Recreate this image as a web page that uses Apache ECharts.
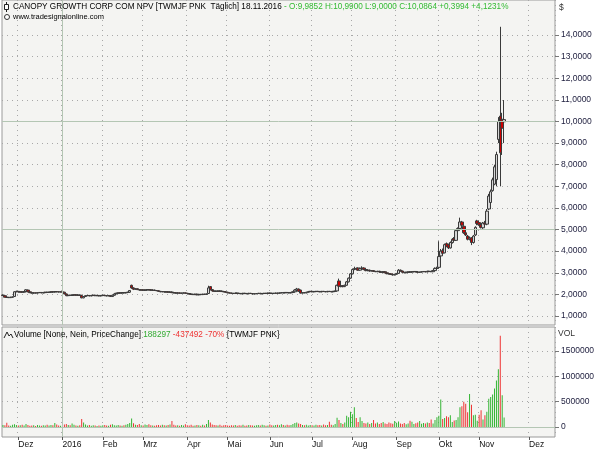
<!DOCTYPE html>
<html><head><meta charset="utf-8">
<script src="https://cdn.jsdelivr.net/npm/echarts@6/dist/echarts.min.js"></script>
<style>html,body{margin:0;padding:0;background:#fff}#c{width:600px;height:450px}</style>
</head><body><div id="c"></div>
<script>
// ---- DATA (daily, TWMJF PNK, from 19.11.2015 to 18.11.2016) ----
const opens = [
1.97,1.94,1.87,1.86,1.85,1.87,1.90,2.12,2.14,2.11,
2.12,2.10,2.13,2.20,2.12,2.08,2.06,2.07,2.06,2.08,
2.09,2.07,2.08,2.10,2.09,2.10,2.12,2.11,2.13,2.12,
2.11,2.12,2.10,2.02,1.94,1.96,1.95,1.97,1.98,1.96,
1.97,1.95,1.84,1.90,1.94,1.95,1.93,1.95,1.96,1.94,
1.95,1.93,1.95,1.96,1.94,1.93,1.95,1.90,1.96,2.02,
2.05,2.07,2.06,2.08,2.07,2.09,2.10,2.42,2.30,2.24,
2.26,2.22,2.20,2.21,2.19,2.20,2.22,2.21,2.19,2.20,
2.18,2.17,2.14,2.12,2.13,2.11,2.12,2.10,2.11,2.08,
2.07,2.06,2.07,2.05,2.06,2.07,2.05,2.04,2.02,2.00,
1.99,2.01,1.98,2.00,1.99,2.01,2.00,2.04,2.36,2.22,
2.16,2.15,2.14,2.16,2.15,2.13,2.12,2.10,2.07,2.06,
2.05,2.04,2.06,2.05,2.04,2.03,2.05,2.04,2.03,2.05,
2.04,2.02,2.03,2.04,2.05,2.03,2.04,2.05,2.04,2.06,
2.05,2.04,2.05,2.06,2.05,2.07,2.08,2.07,2.09,2.08,
2.07,2.09,2.12,2.20,2.25,2.20,2.06,2.08,2.07,2.10,
2.13,2.14,2.12,2.13,2.14,2.13,2.12,2.14,2.13,2.12,
2.14,2.13,2.12,2.14,2.16,2.62,2.36,2.40,2.36,2.42,
2.58,2.75,2.95,3.15,3.20,3.22,3.12,3.20,3.22,3.15,
3.10,3.12,3.08,3.10,3.06,3.05,3.07,3.04,3.02,3.05,
3.00,2.96,2.95,2.92,2.90,2.93,2.97,3.12,3.08,3.02,
3.00,3.02,3.04,3.03,3.05,3.06,3.04,3.02,3.03,3.05,
3.06,3.04,3.07,3.06,3.05,3.10,3.20,3.25,3.78,4.02,
3.92,4.35,4.30,4.15,4.40,4.58,4.50,4.95,5.05,5.35,
5.15,4.85,4.70,4.55,4.62,4.40,4.75,5.40,5.32,5.22,
5.08,5.30,5.25,5.95,6.25,6.80,7.10,7.31,9.17,10.25,
10.10,9.9852];
const highs = [
1.99,1.95,1.89,1.88,1.89,1.90,2.15,2.17,2.15,2.14,
2.14,2.15,2.24,2.21,2.14,2.10,2.09,2.09,2.09,2.11,
2.10,2.10,2.12,2.12,2.12,2.14,2.14,2.15,2.15,2.14,
2.14,2.14,2.12,2.04,1.98,1.98,1.99,2.00,2.00,1.99,
1.99,1.97,1.92,1.96,1.97,1.97,1.97,1.98,1.98,1.97,
1.97,1.97,1.98,1.98,1.96,1.97,1.97,1.98,2.04,2.07,
2.09,2.09,2.10,2.10,2.11,2.12,2.20,2.45,2.33,2.29,
2.28,2.24,2.23,2.23,2.22,2.24,2.24,2.23,2.22,2.22,
2.20,2.19,2.16,2.15,2.15,2.14,2.14,2.13,2.13,2.10,
2.09,2.09,2.09,2.08,2.09,2.09,2.07,2.06,2.04,2.02,
2.03,2.03,2.02,2.02,2.03,2.03,2.04,2.40,2.38,2.25,
2.18,2.17,2.18,2.18,2.17,2.15,2.14,2.12,2.09,2.08,
2.07,2.08,2.08,2.07,2.06,2.07,2.07,2.06,2.07,2.07,
2.06,2.05,2.06,2.07,2.07,2.06,2.07,2.07,2.08,2.08,
2.07,2.07,2.08,2.08,2.09,2.10,2.10,2.11,2.11,2.10,
2.11,2.14,2.24,2.30,2.27,2.22,2.10,2.10,2.12,2.15,
2.16,2.16,2.15,2.16,2.16,2.15,2.16,2.16,2.15,2.16,
2.16,2.15,2.16,2.17,2.45,2.73,2.43,2.43,2.45,2.62,
2.78,2.99,3.20,3.28,3.24,3.25,3.24,3.30,3.25,3.18,
3.15,3.14,3.12,3.12,3.09,3.09,3.09,3.06,3.07,3.07,
3.02,2.99,2.97,2.95,2.95,2.99,3.17,3.15,3.10,3.04,
3.05,3.06,3.07,3.07,3.08,3.08,3.06,3.05,3.07,3.08,
3.08,3.09,3.09,3.08,3.13,3.25,3.28,4.46,4.10,4.12,
4.35,4.40,4.35,4.45,4.60,4.65,5.00,5.10,5.55,5.40,
5.20,4.92,4.75,4.68,4.65,4.75,5.15,5.45,5.38,5.25,
5.35,5.40,5.95,6.65,6.85,7.40,8.00,8.60,10.20,14.38,
10.40,10.99];
const lows = [
1.93,1.86,1.84,1.83,1.84,1.85,1.88,2.10,2.09,2.09,
2.08,2.08,2.12,2.10,2.06,2.04,2.04,2.04,2.04,2.06,
2.05,2.05,2.06,2.07,2.07,2.08,2.09,2.09,2.10,2.09,
2.09,2.08,2.00,1.92,1.92,1.93,1.93,1.95,1.94,1.94,
1.93,1.82,1.82,1.88,1.92,1.91,1.91,1.93,1.92,1.92,
1.91,1.91,1.93,1.92,1.91,1.91,1.88,1.88,1.94,2.00,
2.03,2.04,2.04,2.05,2.05,2.07,2.08,2.26,2.20,2.21,
2.20,2.18,2.18,2.17,2.17,2.18,2.19,2.17,2.17,2.16,
2.15,2.12,2.10,2.10,2.09,2.09,2.08,2.08,2.06,2.05,
2.04,2.04,2.03,2.03,2.04,2.03,2.02,2.00,1.98,1.97,
1.97,1.96,1.96,1.97,1.97,1.98,1.98,2.02,2.18,2.14,
2.13,2.12,2.12,2.13,2.11,2.10,2.08,2.05,2.04,2.03,
2.02,2.02,2.03,2.02,2.01,2.01,2.02,2.01,2.01,2.02,
2.00,2.00,2.01,2.02,2.01,2.01,2.02,2.02,2.02,2.03,
2.02,2.02,2.03,2.03,2.03,2.05,2.05,2.05,2.06,2.05,
2.05,2.07,2.10,2.18,2.12,2.04,2.04,2.05,2.05,2.08,
2.11,2.10,2.10,2.11,2.11,2.10,2.10,2.11,2.10,2.10,
2.11,2.10,2.10,2.12,2.14,2.35,2.33,2.33,2.34,2.40,
2.55,2.72,2.92,3.12,3.14,3.09,3.10,3.17,3.12,3.07,
3.07,3.05,3.06,3.04,3.03,3.03,3.02,3.00,3.00,2.98,
2.93,2.92,2.90,2.87,2.88,2.91,2.95,3.05,3.00,2.98,
2.98,3.00,3.01,3.01,3.03,3.02,3.00,3.00,3.01,3.03,
3.02,3.02,3.04,3.03,3.03,3.08,3.13,3.20,3.70,3.85,
3.90,4.18,4.10,4.12,4.35,4.45,4.48,4.90,5.00,5.15,
4.80,4.70,4.50,4.50,4.28,4.35,4.70,5.20,5.18,5.05,
5.03,5.20,5.20,5.90,6.20,6.75,7.05,7.00,9.00,7.00,
8.45,9.00];
const closes = [
1.95,1.87,1.86,1.85,1.87,1.88,2.12,2.14,2.11,2.12,
2.10,2.13,2.21,2.12,2.08,2.06,2.07,2.06,2.08,2.09,
2.07,2.08,2.10,2.09,2.10,2.12,2.11,2.13,2.12,2.11,
2.12,2.10,2.02,1.94,1.96,1.95,1.97,1.98,1.96,1.97,
1.95,1.84,1.90,1.94,1.95,1.93,1.95,1.96,1.94,1.95,
1.93,1.95,1.96,1.94,1.93,1.95,1.90,1.96,2.02,2.05,
2.07,2.06,2.08,2.07,2.09,2.10,2.18,2.30,2.24,2.26,
2.22,2.20,2.21,2.19,2.20,2.22,2.21,2.19,2.20,2.18,
2.17,2.14,2.12,2.13,2.11,2.12,2.10,2.11,2.08,2.07,
2.06,2.07,2.05,2.06,2.07,2.05,2.04,2.02,2.00,1.99,
2.01,1.98,2.00,1.99,2.01,2.00,2.02,2.30,2.22,2.16,
2.15,2.14,2.16,2.15,2.13,2.12,2.10,2.07,2.06,2.05,
2.04,2.06,2.05,2.04,2.03,2.05,2.04,2.03,2.05,2.04,
2.02,2.03,2.04,2.05,2.03,2.04,2.05,2.04,2.06,2.05,
2.04,2.05,2.06,2.05,2.07,2.08,2.07,2.09,2.08,2.07,
2.09,2.12,2.20,2.25,2.14,2.06,2.08,2.07,2.10,2.13,
2.14,2.12,2.13,2.14,2.13,2.12,2.14,2.13,2.12,2.14,
2.13,2.12,2.14,2.15,2.42,2.38,2.40,2.36,2.42,2.58,
2.75,2.95,3.15,3.20,3.18,3.12,3.20,3.22,3.15,3.10,
3.12,3.08,3.10,3.06,3.05,3.07,3.04,3.02,3.05,3.00,
2.96,2.95,2.92,2.90,2.93,2.97,3.12,3.08,3.02,3.00,
3.02,3.04,3.03,3.05,3.06,3.04,3.02,3.03,3.05,3.06,
3.04,3.07,3.06,3.05,3.10,3.20,3.22,3.75,4.00,3.90,
4.30,4.22,4.15,4.40,4.55,4.50,4.95,5.05,5.35,5.20,
4.85,4.75,4.55,4.60,4.40,4.70,5.10,5.28,5.22,5.10,
5.30,5.25,5.85,6.55,6.75,7.30,7.90,8.47,10.00,8.55,
9.687,10.0864];
const volumes = [
40000,35000,85000,30000,25000,45000,55000,40000,30000,35000,
45000,30000,60000,40000,25000,30000,35000,20000,40000,30000,
25000,35000,30000,45000,30000,40000,35000,80000,50000,30000,
25000,45000,50000,60000,40000,35000,70000,45000,30000,25000,
35000,160000,90000,50000,30000,40000,25000,35000,30000,20000,
30000,25000,35000,40000,30000,25000,45000,55000,35000,30000,
40000,30000,25000,35000,45000,60000,80000,170000,75000,45000,
40000,60000,35000,30000,50000,40000,55000,35000,30000,25000,
35000,40000,30000,45000,35000,30000,40000,50000,120000,45000,
30000,35000,25000,40000,30000,55000,35000,30000,45000,25000,
30000,40000,35000,25000,45000,30000,60000,140000,90000,50000,
40000,35000,30000,45000,25000,35000,40000,30000,25000,35000,
30000,40000,25000,35000,30000,45000,25000,30000,40000,35000,
30000,25000,35000,40000,30000,45000,35000,25000,30000,50000,
35000,30000,40000,45000,35000,55000,40000,30000,45000,35000,
40000,60000,80000,90000,70000,60000,40000,35000,45000,30000,
40000,35000,30000,45000,35000,40000,30000,50000,35000,40000,
105000,45000,35000,60000,185000,140000,80000,60000,90000,220000,
190000,300000,250000,390000,180000,100000,190000,120000,80000,70000,
90000,60000,80000,140000,70000,90000,60000,80000,100000,70000,
60000,90000,75000,65000,120000,85000,110000,70000,60000,80000,
55000,70000,125000,105000,60000,75000,90000,120000,65000,80000,
70000,90000,80000,150000,70000,140000,190000,220000,545000,160000,
180000,210000,190000,230000,100000,130000,140000,190000,390000,410000,
500000,460000,290000,650000,440000,230000,240000,125000,240000,330000,
150000,230000,300000,560000,590000,640000,760000,920000,1140000,1800000,
625789,188297];
const tickLabels = ['Dez','2016','Feb','Mrz','Apr','Mai','Jun','Jul','Aug','Sep','Okt','Nov','Dez'];
const priceTicks = [1,14];      // price axis label range
const volTicks = [0,1500000];   // volume axis label range

// ---- categories: trading days from 19.11.2015, then calendar days after the last bar ----
function pad(n){return (n<10?'0':'')+n;}
function fmt(d){return d.getUTCFullYear()+'-'+pad(d.getUTCMonth()+1)+'-'+pad(d.getUTCDate());}
const categories = (function(){
  const out=[]; const d=new Date(Date.UTC(2015,10,19));
  while(out.length<closes.length){const w=d.getUTCDay(); if(w!==0&&w!==6) out.push(fmt(d)); d.setUTCDate(d.getUTCDate()+1);}
  for(let k=0;k<26;k++){ out.push(fmt(d)); d.setUTCDate(d.getUTCDate()+1);}
  return out;
})();
const labelAt = {}; const isMonthStart = [];
(function(){ let m=0; for(let i=0;i<categories.length;i++){ const s = i>0 && categories[i].slice(0,7)!==categories[i-1].slice(0,7); isMonthStart.push(s); if(s){labelAt[i]=tickLabels[m++]||'';} } })();
const janCat = categories.find(c=>c.startsWith('2016-01'));

const candleData = closes.map((c,i)=>[opens[i],c,lows[i],highs[i]]);
const volData = volumes.slice();

const GREEN='#33b533', RED='#ee3333';
const chart = echarts.init(document.getElementById('c'),null,{renderer:'canvas'});
const L=2, R=45;
const monthInterval = (idx)=>isMonthStart[idx];
const dotted = {type:[1,4], color:'#a8a8a8', width:1};
const font = 'Liberation Sans';
const FS = 8.2;
const solidGrid = {type:'solid', color:'#b4c6b4', width:1};
function catAxis(gi, extra){ return Object.assign({type:'category', gridIndex:gi, data:categories, boundaryGap:true,
  axisLine:{show:false}, axisTick:{show:false}, axisLabel:{show:false},
  splitLine:{show:false}}, extra||{}); }

chart.setOption({
  animation:false,
  backgroundColor:'#ffffff',
  textStyle:{fontFamily:font},
  grid:[
    {left:L, right:R, top:0, height:325, show:true, backgroundColor:'#f4f4f2', borderColor:'#9a9a9a', borderWidth:1},
    {left:L, right:R, top:35, height:281},
    {left:L, right:R, top:327, height:110, show:true, backgroundColor:'#f4f4f2', borderColor:'#9a9a9a', borderWidth:1},
    {left:L, right:R, top:351, height:76}
  ],
  xAxis:[
    catAxis(0,{splitLine:{show:true, interval:monthInterval, lineStyle:dotted}}),
    catAxis(1),
    catAxis(2,{position:'bottom', splitLine:{show:true, interval:monthInterval, lineStyle:dotted},
      axisTick:{show:true, interval:monthInterval, alignWithLabel:true, length:3, lineStyle:{color:'#555'}},
      axisLabel:{show:true, interval:monthInterval, align:'left', margin:3, fontSize:8.5, color:'#111', fontFamily:font,
        formatter:(v,i)=>labelAt[i]||''}}),
    catAxis(3)
  ],
  yAxis:[
    {type:'value', gridIndex:0, show:false, min:0, max:1},
    {type:'value', gridIndex:1, position:'right', min:priceTicks[0], max:priceTicks[1], interval:1,
      axisLine:{show:false}, axisTick:{show:true, length:4, lineStyle:{color:'#777'}},
      axisLabel:{margin:6, fontSize:8.5, color:'#1c1c3c', fontFamily:font, formatter:v=>v.toFixed(4).replace('.',',')},
      splitLine:{show:true, lineStyle:dotted}},
    {type:'value', gridIndex:2, show:false, min:0, max:1},
    {type:'value', gridIndex:3, position:'right', min:volTicks[0], max:volTicks[1], interval:500000,
      axisLine:{show:false}, axisTick:{show:true, length:4, lineStyle:{color:'#777'}},
      axisLabel:{margin:6, fontSize:8.5, color:'#1c1c3c', fontFamily:font, formatter:v=>String(Math.round(v))},
      splitLine:{show:true, lineStyle:dotted}}
  ],
  series:[
    {type:'line', xAxisIndex:0, yAxisIndex:0, data:[], silent:true,
      markLine:{silent:true, symbol:'none', label:{show:false}, lineStyle:solidGrid, emphasis:{disabled:true}, data:[{xAxis:janCat}]}},
    {type:'line', xAxisIndex:2, yAxisIndex:2, data:[], silent:true,
      markLine:{silent:true, symbol:'none', label:{show:false}, lineStyle:solidGrid, emphasis:{disabled:true}, data:[{xAxis:janCat}]}},
    {type:'candlestick', xAxisIndex:1, yAxisIndex:1, data:candleData, barWidth:3, clip:false,
      itemStyle:{color:'#d6d6d6', color0:'#cc0000', borderColor:'#3a3a3a', borderColor0:'#3a3a3a', borderWidth:1},
      markLine:{silent:true, symbol:'none', label:{show:false}, lineStyle:solidGrid, emphasis:{disabled:true}, data:[{yAxis:5},{yAxis:10}]}},
    {type:'bar', xAxisIndex:3, yAxisIndex:3, data:volData, barWidth:1, clip:false,
      itemStyle:{color:p=>{const i=p.dataIndex; return (i===0||closes[i]>=closes[i-1])?GREEN:RED;}},
      markLine:{silent:true, symbol:'none', label:{show:false}, lineStyle:solidGrid, emphasis:{disabled:true}, data:[{yAxis:0}]}}
  ],
  title:[
    {left:13, top:3, padding:0, text:'{b|CANOPY GROWTH CORP COM NPV [TWMJF PNK  Täglich] 18.11.2016 }{g|- O:9,9852 H:10,9900 L:9,0000 C:10,0864 +0,3994 +4,1231%}',
      textStyle:{fontWeight:'normal', rich:{b:{fontSize:FS, fontWeight:'normal', color:'#000', fontFamily:font}, g:{fontSize:FS, fontWeight:'normal', color:'#33bb33', fontFamily:font}}}},
    {left:13, top:13, padding:0, text:'www.tradesignalonline.com', textStyle:{fontSize:7.5, fontWeight:'normal', color:'#000', fontFamily:font}},
    {left:559, top:3, padding:0, text:'$', textStyle:{fontSize:8.5, fontWeight:'normal', color:'#333', fontFamily:font}},
    {left:558, top:329, padding:0, text:'VOL', textStyle:{fontSize:8.5, fontWeight:'normal', color:'#333', fontFamily:font}},
    {left:14, top:331, padding:0, text:'{b|Volume [None, Nein, PriceChange] }{g|188297 }{r|-437492 -70% }{TWMJF PNK}',
      textStyle:{fontSize:FS, fontWeight:'normal', color:'#000', fontFamily:font,
        rich:{b:{fontSize:FS, fontWeight:'normal', color:'#000', fontFamily:font}, g:{fontSize:FS, fontWeight:'normal', color:'#33aa33', fontFamily:font}, r:{fontSize:FS, fontWeight:'normal', color:'#ee3333', fontFamily:font}}}}
  ],
  graphic:[
    {type:'line', shape:{x1:6.5,y1:2,x2:6.5,y2:12}, style:{stroke:'#222', lineWidth:1}},
    {type:'rect', shape:{x:4.5,y:4.5,width:4,height:5}, style:{fill:'#fff', stroke:'#222', lineWidth:1}},
    {type:'circle', shape:{cx:7, cy:17, r:2.5}, style:{fill:'#fff', stroke:'#333', lineWidth:1}},
    {type:'polyline', shape:{points:[[4,338],[7,332],[9,336],[11,334],[13,338]]}, style:{stroke:'#222', fill:null, lineWidth:1}}
  ]
});
</script></body></html>
